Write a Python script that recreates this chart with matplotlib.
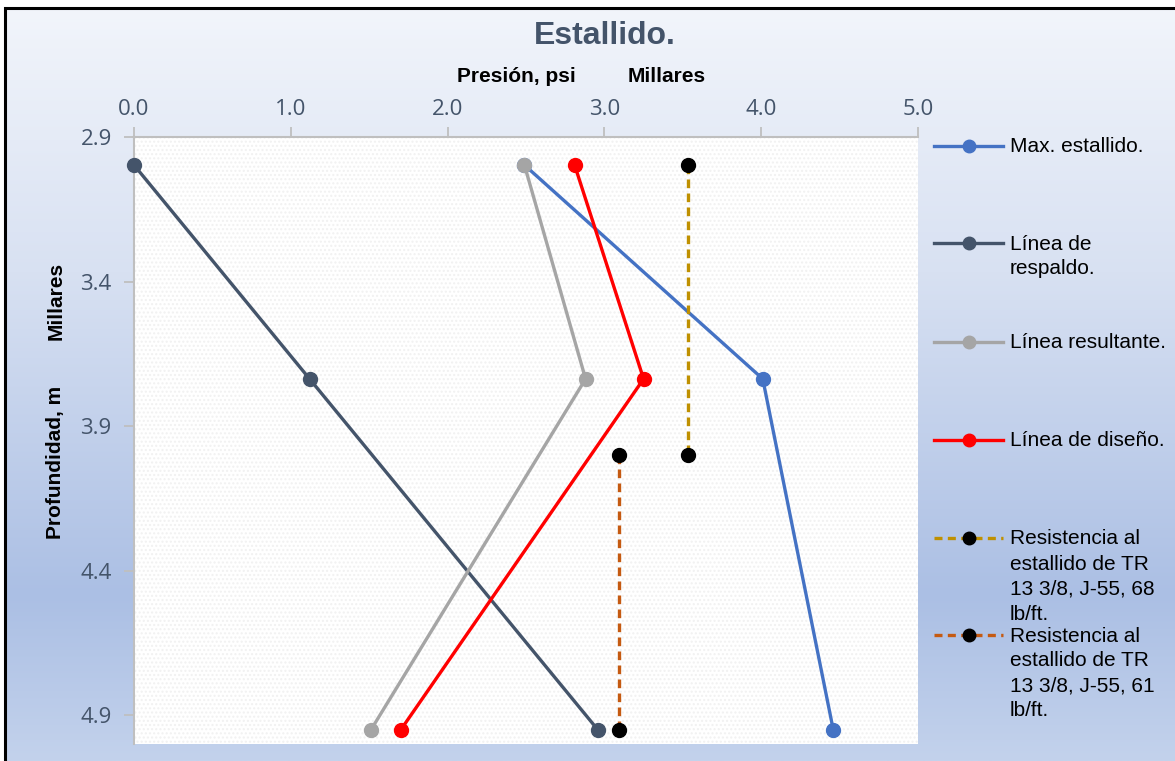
import matplotlib
matplotlib.use("Agg")
import matplotlib.pyplot as plt
import numpy as np
from matplotlib.lines import Line2D
from matplotlib.patches import Rectangle

# ---- data (thousands of psi vs thousands of m) ----
depth3 = [2.997, 3.737, 4.952]
max_estallido = [2.49, 4.01, 4.46]
linea_respaldo = [0.00, 1.12, 2.96]
linea_resultante = [2.49, 2.88, 1.51]
linea_diseno = [2.81, 3.25, 1.70]
res68_x = [3.53, 3.53]
res68_y = [2.997, 4.000]
res61_x = [3.09, 3.09]
res61_y = [4.000, 4.952]

x_ticks = [0.0, 1.0, 2.0, 3.0, 4.0, 5.0]
y_ticks = [2.9, 3.4, 3.9, 4.4, 4.9]

labels = ["Max. estallido.", "Línea de\nrespaldo.", "Línea resultante.",
          "Línea de diseño.",
          "Resistencia al\nestallido de TR\n13 3/8, J-55, 68\nlb/ft.",
          "Resistencia al\nestallido de TR\n13 3/8, J-55, 61\nlb/ft."]
colors = ["#4472c4", "#44546a", "#a5a5a5", "#ff0000", "#bf9000", "#c55a11"]

W, H = 1175, 761
fig = plt.figure(figsize=(W / 100, H / 100), dpi=100)
fig.patch.set_facecolor("white")

def fx(px):
    return px / W

def fy(py):
    return 1 - py / H

# background gradient
bg = fig.add_axes([fx(5), 0, 1 - fx(5), fy(8)])
bg.set_axis_off()
stops_y = np.array([0.0, 0.35, 0.78, 1.0])
stops_c = np.array([[0xf2, 0xf5, 0xfb], [0xd8, 0xe1, 0xf2], [0xab, 0xbf, 0xe4], [0xc3, 0xd2, 0xec]]) / 255
yy = np.linspace(0, 1, 400)
grad = np.stack([np.interp(yy, stops_y, stops_c[:, k]) for k in range(3)], axis=1)
img = np.repeat(grad[:, None, :], 2, axis=1)
bg.imshow(img, aspect="auto", extent=[0, 1, 1, 0])
bg.set_xlim(0, 1)
bg.set_ylim(1, 0)

# border
fig.add_artist(Rectangle((fx(5), -0.01), 1.0, fy(8) + 0.01, transform=fig.transFigure,
                         fill=False, edgecolor="black", linewidth=2.2, zorder=10))

left, right, top, bottom = 134, 918, 137, 744
ax = fig.add_axes([fx(left), fy(bottom), fx(right - left), (bottom - top) / H])
ax.set_facecolor("white")
ax.add_patch(Rectangle((0, 0), 1, 1, transform=ax.transAxes, facecolor="white",
                       hatch="....", edgecolor="#f1f1f1", linewidth=0, zorder=0))

lw = 2.4
ms = 10
dash = (0, (2.6, 1.6))
ax.plot(max_estallido, depth3, color=colors[0], lw=lw, marker="o", ms=ms, zorder=3, clip_on=False)
ax.plot(linea_respaldo, depth3, color=colors[1], lw=lw, marker="o", ms=ms, zorder=3, clip_on=False)
ax.plot(linea_resultante, depth3, color=colors[2], lw=lw, marker="o", ms=ms, zorder=3, clip_on=False)
ax.plot(linea_diseno, depth3, color=colors[3], lw=lw, marker="o", ms=ms, zorder=3, clip_on=False)
ax.plot(res68_x, res68_y, color=colors[4], lw=2.4, ls=dash, marker="o", ms=ms,
        mfc="black", mec="black", zorder=4, clip_on=False)
ax.plot(res61_x, res61_y, color=colors[5], lw=2.4, ls=dash, marker="o", ms=ms,
        mfc="black", mec="black", zorder=4, clip_on=False)

ax.set_xlim(0, 5)
ax.set_ylim(5.0, 2.9)
ax.xaxis.tick_top()
ax.set_xticks(x_ticks)
ax.set_xticklabels([f"{v:.1f}" for v in x_ticks])
ax.set_yticks(y_ticks)
ax.set_yticklabels([f"{v:.1f}" for v in y_ticks])
for s in ["right", "bottom"]:
    ax.spines[s].set_visible(False)
for s in ["top", "left"]:
    ax.spines[s].set_color("#bfbfbf")
    ax.spines[s].set_linewidth(1.5)
ax.tick_params(axis="both", colors="#bfbfbf", length=7, width=1.3, labelcolor="#44546a",
               labelsize=16, pad=5)
ax.tick_params(axis="y", pad=9)
for t in ax.get_xticklabels() + ax.get_yticklabels():
    t.set_fontfamily("Open Sans")

# titles / axis labels
fig.text(fx(605), fy(36), "Estallido.", ha="center", va="center", fontsize=23,
         fontweight="bold", color="#44546a", family="Liberation Sans")
fig.text(fx(516), fy(77), "Presión, psi", ha="center", va="center", fontsize=15,
         fontweight="bold", color="black", family="Liberation Sans")
fig.text(fx(667), fy(76), "Millares", ha="center", va="center", fontsize=15,
         fontweight="bold", color="black", family="Liberation Sans")
fig.text(fx(56), fy(301), "Millares", ha="center", va="center", fontsize=15,
         fontweight="bold", color="black", rotation=90, family="Liberation Sans")
fig.text(fx(56), fy(462), "Profundidad, m", ha="center", va="center", fontsize=15,
         fontweight="bold", color="black", rotation=90, family="Liberation Sans")

# manual legend
leg_y = [146, 243, 342, 440, 538, 635]
styles = ["-", "-", "-", "-", (0, (2.4, 1.6)), (0, (2.4, 1.6))]
for i, (lab, c, py) in enumerate(zip(labels, colors, leg_y)):
    fig.add_artist(Line2D([fx(934), fx(1003)], [fy(py), fy(py)], transform=fig.transFigure,
                          color=c, lw=2.4, ls=styles[i]))
    mc = c if i < 4 else "black"
    fig.add_artist(Line2D([fx(969)], [fy(py)], transform=fig.transFigure, marker="o",
                          ms=9, color=mc, mec=mc, ls="none"))
    for k, line in enumerate(lab.split("\n")):
        fig.text(fx(1010), fy(py + k * 25 + 1), line, ha="left", va="center", fontsize=15,
                 color="black", family="Liberation Sans")

fig.savefig("out.png", dpi=100)
